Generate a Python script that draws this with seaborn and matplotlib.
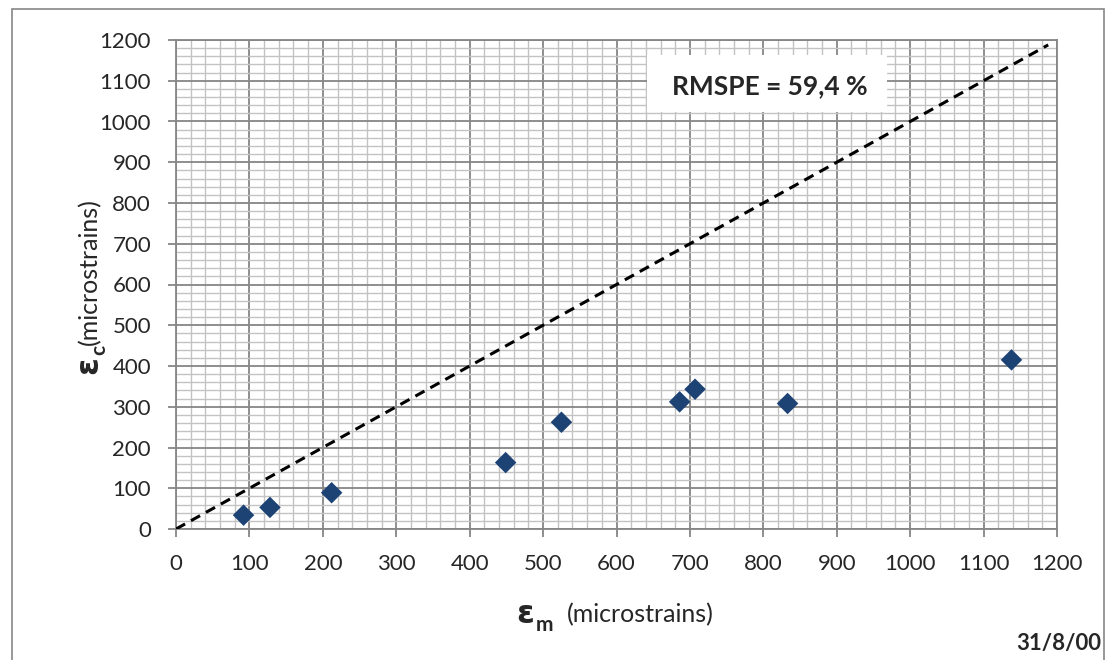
import numpy as np
import pandas as pd
import seaborn as sns
import matplotlib.pyplot as plt
from matplotlib.patches import Rectangle
from matplotlib.ticker import MultipleLocator

# measured vs calculated strains (microstrains)
eps_m = [92, 128, 212, 449, 525, 686, 707, 833, 1138]
eps_c = [34, 53, 89, 163, 262, 312, 343, 308, 415]
line_x = [0, 1188]
line_y = [0, 1188]
rmspe_text = "RMSPE = 59,4 %"
date_text = "31/8/00"

sns.set_style("white")
plt.rcParams['font.family'] = ['Lato', 'DejaVu Sans']

W, H = 1111, 660
fig = plt.figure(figsize=(W / 100, H / 100), dpi=100)
ax = fig.add_axes([176 / W, 1 - 529 / H, (1057 - 176) / W, (529 - 40) / H])

df = pd.DataFrame({"m": eps_m, "c": eps_c})
ref = pd.DataFrame({"x": line_x, "y": line_y})

sns.lineplot(data=ref, x="x", y="y", ax=ax, color="black", lw=2.2,
             linestyle=(0, (3.4, 2.2)), zorder=3)
sns.scatterplot(data=df, x="m", y="c", ax=ax, marker="D", s=120,
                color="#1D4375", edgecolor="none", zorder=4)

ax.set_xlim(0, 1200)
ax.set_ylim(0, 1200)
ax.xaxis.set_major_locator(MultipleLocator(100))
ax.yaxis.set_major_locator(MultipleLocator(100))
ax.xaxis.set_minor_locator(MultipleLocator(20))
ax.yaxis.set_minor_locator(MultipleLocator(20))
ax.grid(which="minor", color="#C3C3C3", lw=1.0, zorder=0)
ax.grid(which="major", color="#868686", lw=1.3, zorder=1)
ax.set_axisbelow(True)
for s in ax.spines.values():
    s.set_color("#868686")
    s.set_linewidth(1.3)
ax.tick_params(which="major", direction="out", length=6, width=1.3,
               color="#868686", labelsize=16, bottom=True, left=True)
ax.tick_params(axis="y", pad=12)
ax.tick_params(axis="x", pad=12)
ax.tick_params(which="minor", length=0)
ax.set_xlabel("")
ax.set_ylabel("")

# RMSPE box
ax.add_patch(Rectangle((642, 1023), 327, 140, facecolor="white",
                       edgecolor="none", zorder=2))
ax.text(809, 1087, rmspe_text, ha="center", va="center", fontsize=19,
        fontweight="bold", zorder=5)

# x axis label
fig.text(516 / W, 1 - 623 / H, "ε", fontsize=23, fontweight="bold",
         family=["DejaVu Sans"], ha="left", va="baseline")
fig.text(536 / W, 1 - 631 / H, "m", fontsize=15, fontweight="bold",
         ha="left", va="baseline")
fig.text(567 / W, 1 - 622 / H, "(microstrains)", fontsize=18,
         ha="left", va="baseline")

# y axis label (rotated)
fig.text(97 / W, 1 - 374 / H, "ε", fontsize=23, fontweight="bold",
         family=["DejaVu Sans"], rotation=90, rotation_mode="anchor",
         ha="left", va="baseline")
fig.text(105 / W, 1 - 355 / H, "c", fontsize=15, fontweight="bold",
         rotation=90, rotation_mode="anchor", ha="left", va="baseline")
fig.text(97 / W, 1 - 345 / H, "(microstrains)", fontsize=18,
         rotation=90, rotation_mode="anchor", ha="left", va="baseline")

fig.text(1101 / W, 1 - 650 / H, date_text, fontsize=16, fontweight="bold",
         ha="right", va="baseline")

fig.patches.append(Rectangle((12 / W, -0.05), (1104 - 12) / W, 1.05 - 9 / H,
                             transform=fig.transFigure, fill=False,
                             edgecolor="#868686", lw=1.2))

fig.savefig("out.png", dpi=100)
